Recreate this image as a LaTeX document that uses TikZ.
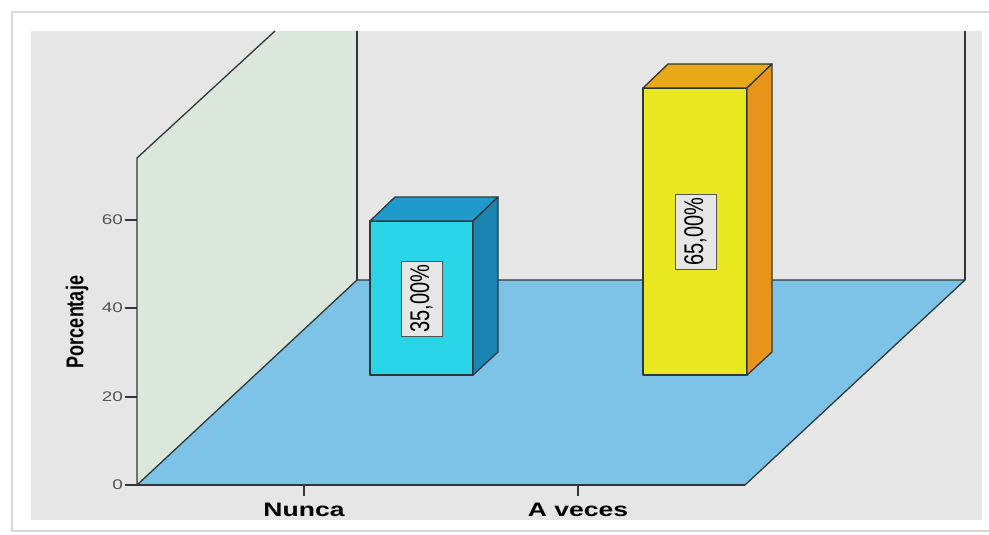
\documentclass[tikz,border=0pt]{standalone}
\usepackage{fontspec}
\setmainfont{Liberation Sans}
\definecolor{bgc}{HTML}{E6E6E6}
\definecolor{wallc}{HTML}{DCE7DC}
\definecolor{floorc}{HTML}{7DC3E8}
\definecolor{linec}{HTML}{2E3838}
\definecolor{cyanfront}{HTML}{29D4E6}
\definecolor{cyantop}{HTML}{1F9ACB}
\definecolor{cyanside}{HTML}{1B84B2}
\definecolor{yelfront}{HTML}{E9E720}
\definecolor{yeltop}{HTML}{E8A919}
\definecolor{yelside}{HTML}{E8941A}
\definecolor{tickc}{HTML}{555555}
\tikzset{
  edge/.style={draw=linec, line width=1.3pt, line join=round},
  ticklab/.style={anchor=east, text=tickc, font=\fontsize{14}{14}\selectfont, inner sep=0pt},
  catlab/.style={font=\bfseries\fontsize{19.5}{19.5}\selectfont, inner sep=0pt},
  vallab/.style={draw=tickc, fill=bgc, line width=0.8pt, minimum width=41pt, minimum height=75pt, inner sep=0pt}
}
\begin{document}
\begin{tikzpicture}[x=1pt,y=-1pt]
\useasboundingbox (0,0) rectangle (989,535);
\fill[white] (0,0) rectangle (989,535);
\draw[gray!30, line width=2pt] (995,12) -- (12,12) -- (12,531) -- (995,531);
\fill[bgc] (31,31) rectangle (982,520);
% left wall
\fill[wallc] (137,485) -- (137,158) -- (275,31) -- (357,31) -- (357,280) -- cycle;
\draw[edge] (137,485) -- (137,158) -- (275,31);
% floor
\filldraw[edge, fill=floorc] (137,485) -- (357,280) -- (965,280) -- (745,485) -- cycle;
\draw[edge, line width=2pt] (357,31) -- (357,280);
\draw[edge, line width=2.2pt] (965,31) -- (965,280);
% axes
\draw[edge] (125,485) -- (745,485);
\foreach \v/\yy in {0/485,20/397,40/308,60/220}{
  \draw[draw=linec, line width=1.2pt] (125,\yy) -- (137,\yy);
  \node[ticklab] (t\v) at (123,\yy) {\scalebox{1.35}[1]{\v}};
}
\draw[draw=linec, line width=1.2pt] (304,485) -- (304,496);
\draw[draw=linec, line width=1.2pt] (578,485) -- (578,496);
\node[catlab] (nunca) at (304,510) {\scalebox{1.36}[1]{Nunca}};
\node[catlab] (aveces) at (578,510) {\scalebox{1.36}[1]{A veces}};
\node[rotate=90, font=\bfseries\fontsize{18}{18}\selectfont, inner sep=0pt] (ylab) at (77,322) {\scalebox{1}[1.35]{Porcentaje}};
% bar 1
\filldraw[edge, fill=cyanfront] (370,221) rectangle (473,375);
\filldraw[edge, fill=cyantop] (370,221) -- (395,197) -- (498,197) -- (473,221) -- cycle;
\filldraw[edge, fill=cyanside] (473,221) -- (498,197) -- (498,352) -- (473,375) -- cycle;
\node[vallab] (v1) at (421.5,298.5) {};
\node[rotate=90, font=\fontsize{20}{20}\selectfont, inner sep=0pt] (v1t) at (v1.center) {\scalebox{1}[1.35]{35,00\%}};
% bar 2
\filldraw[edge, fill=yelfront] (643,88) rectangle (747,375);
\filldraw[edge, fill=yeltop] (643,88) -- (668,64) -- (772,64) -- (747,88) -- cycle;
\filldraw[edge, fill=yelside] (747,88) -- (772,64) -- (772,352) -- (747,375) -- cycle;
\node[vallab] (v2) at (695.5,231.5) {};
\node[rotate=90, font=\fontsize{20}{20}\selectfont, inner sep=0pt] (v2t) at (v2.center) {\scalebox{1}[1.35]{65,00\%}};
\end{tikzpicture}
\end{document}
